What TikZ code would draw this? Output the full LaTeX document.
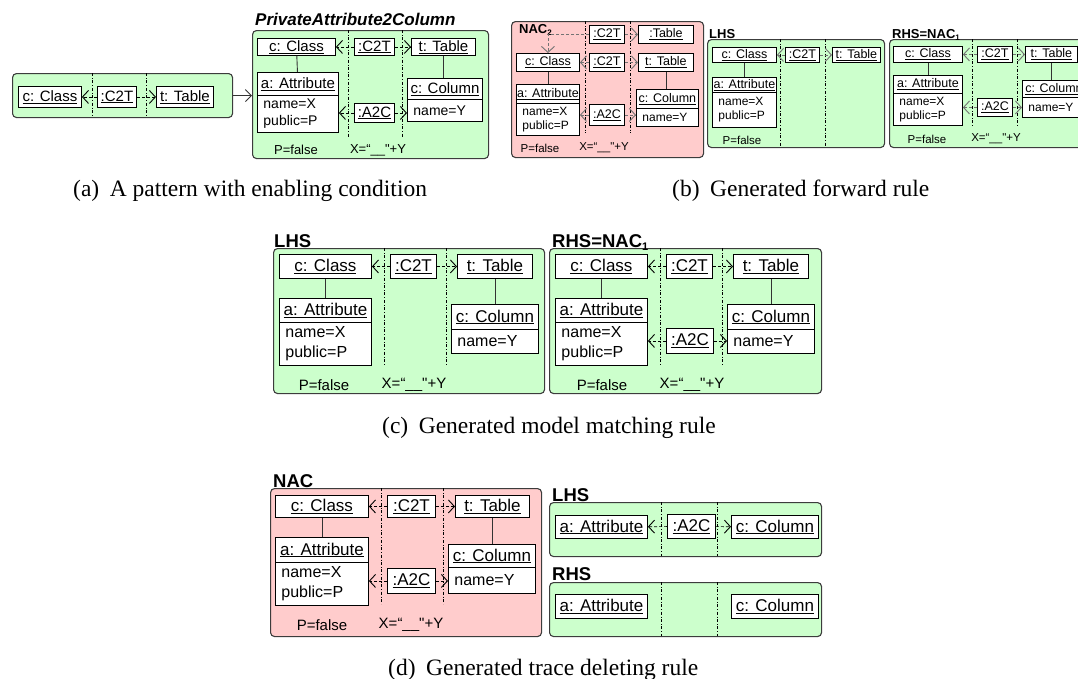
\documentclass[tikz,border=0pt]{standalone}
\usepackage{fontspec}
\setmainfont{Liberation Serif}
\newfontfamily\diag{Liberation Sans}
\usetikzlibrary{arrows.meta}

\definecolor{rulegreen}{HTML}{CCFFCC}
\definecolor{nacred}{HTML}{FFCCCC}
\definecolor{rim}{HTML}{3C3C3C}

\tikzset{
  obj/.style={draw=black, fill=white, line width=0.9pt, inner sep=0pt, anchor=north west},
  attrs/.style={obj, align=left, inner xsep=6pt},
  rulebox/.style={draw=rim, fill=rulegreen, line width=1.1pt, rounded corners=4pt, inner sep=0pt, anchor=north west},
  nacbox/.style={rulebox, fill=nacred},
  lane/.style={dash dot, line width=0.6pt},
  link/.style={dash pattern=on 3pt off 2pt, line width=0.7pt, -{Straight Barb[length=6pt,width=13pt,line width=0.9pt,sharp]}},
  linkg/.style={link, black!55},
  assoc/.style={line width=0.9pt, draw=black!80},
  lbl/.style={font=\diag\bfseries\fontsize{18.5}{20}\selectfont, inner sep=0pt, anchor=base west},
  lblb/.style={lbl, font=\diag\bfseries\fontsize{13}{15}\selectfont},
  foot/.style={inner sep=0pt},
  caption/.style={font=\fontsize{23.5}{26}\selectfont, inner sep=0pt, anchor=base west},
  sa/.style={font=\diag\fontsize{15}{18}\selectfont},
  sab/.style={font=\diag\fontsize{14}{17}\selectfont},
  sb/.style={font=\diag\fontsize{12.5}{15}\selectfont},
  sbb/.style={font=\diag\fontsize{12}{14}\selectfont},
  sc/.style={font=\diag\fontsize{17}{20}\selectfont},
  scb/.style={font=\diag\fontsize{16}{20}\selectfont},
  fta/.style={foot, font=\diag\fontsize{13}{15}\selectfont},
  ftb/.style={foot, font=\diag\fontsize{11.5}{13}\selectfont},
  ftc/.style={foot, font=\diag\fontsize{15}{17}\selectfont},
}

\begin{document}
\begin{tikzpicture}[x=1pt, y=-1pt]
\useasboundingbox (0,0) rectangle (1078,678);
\clip (0,0) rectangle (1078,678);

% (a) pattern, left part
\begin{scope}[shift={(12,73)}, every node/.style={sa}]
	\node[rulebox, minimum width=220, minimum height=44] (ra) at (0,0) {};
	\draw[lane] (80,0) -- (80,44);
	\draw[lane] (134,0) -- (134,44);
	\node[obj, minimum width=63, minimum height=21] (clsa) at (6,13) {\underline{c: Class}};
	\node[obj, minimum width=39, minimum height=21] (c2ta) at (85,13) {\underline{:C2T}};
	\node[obj, minimum width=57, minimum height=21] (tbla) at (144,13) {\underline{t: Table}};
	\draw[link] (c2ta) -- (clsa);
	\draw[link] (c2ta) -- (tbla);
\end{scope}

% (a) pattern, PrivateAttribute2Column
\begin{scope}[shift={(252,30)}, every node/.style={sa}]
	\node[rulebox, minimum width=236, minimum height=128] (rb) at (0,0) {};
	\node[lbl, font=\diag\bfseries\itshape\fontsize{17}{20}\selectfont] (rbt) at (3,-5) {PrivateAttribute2Column};
	\draw[lane] (96,0) -- (96,108);
	\draw[lane] (150,0) -- (150,108);
	\node[obj, minimum width=78, minimum height=17] (clsp) at (5,8) {\underline{c: Class}};
	\node[obj, minimum width=40, minimum height=17] (c2tp) at (102,8) {\underline{:C2T}};
	\node[obj, minimum width=64, minimum height=17] (tblp) at (159,8) {\underline{t: Table}};
	\node[obj, minimum width=81, minimum height=23] (atp) at (5,42) {\underline{a: Attribute}};
	\node[attrs, sab, text width=69pt, minimum height=37] (atpb) at (5,65) {name=X\\public=P};
	\node[obj, minimum width=75, minimum height=21] (colp) at (155,48) {\underline{c: Column}};
	\node[attrs, sab, text width=63pt, minimum height=22] (colpb) at (155,69) {name=Y};
	\node[obj, minimum width=40, minimum height=19] (a2cp) at (102,73) {\underline{:A2C}};
	\draw[assoc] (clsp) -- (atp);
	\draw[assoc] (tblp.south) -- (tblp.south |- colp.north);
	\draw[link] (c2tp) -- (clsp);
	\draw[link] (c2tp) -- (tblp);
	\draw[link] (a2cp.west) -- (a2cp.west -| atpb.east);
	\draw[link] (a2cp.east) -- (a2cp.east -| colpb.west);
	\node[fta] (pfp) at (44,120) {P=false};
	\node[fta] (xyp) at (126,120) {X=“\_\_"+Y};
\end{scope}
\draw[assoc, -{Straight Barb[length=6pt,width=12pt]}] (ra.east) -- (ra.east -| rb.west);

% (b) NAC_2
\begin{scope}[shift={(511,21)}, every node/.style={sb}]
	\node[nacbox, minimum width=192, minimum height=136] (nacb) at (0,0) {};
	\draw[lane] (74,0) -- (74,112);
	\draw[lane] (119,0) -- (119,112);
	\node[lblb] (nacbt) at (8,12) {NAC\raisebox{-2.5pt}{\fontsize{8}{8}\selectfont 2}};
	\node[obj, minimum width=35, minimum height=18] (c2tx) at (78,4) {\underline{:C2T}};
	\node[obj, minimum width=55, minimum height=18] (tabx) at (127,4) {\underline{:Table}};
	\node[obj, minimum width=63, minimum height=18] (clsb) at (5,32) {\underline{c: Class}};
	\node[obj, minimum width=35, minimum height=18] (c2tb) at (78,32) {\underline{:C2T}};
	\node[obj, minimum width=55, minimum height=18] (tblb) at (127,32) {\underline{t: Table}};
	\node[obj, minimum width=63, minimum height=19] (atb) at (5,63) {\underline{a: Attribute}};
	\node[attrs, sbb, text width=51pt, minimum height=32] (atbb) at (5,82) {name=X\\public=P};
	\node[obj, minimum width=62, minimum height=19] (colb) at (125,68) {\underline{c: Column}};
	\node[attrs, sbb, text width=50pt, minimum height=18] (colbb) at (125,87) {name=Y};
	\node[obj, minimum width=35, minimum height=21] (a2cb) at (78,83) {\underline{:A2C}};
	\draw[assoc] (clsb) -- (atb);
	\draw[assoc] (tblb.south) -- (tblb.south |- colb.north);
	\draw[linkg] (c2tx.west) -| (clsb.north);
	\draw[linkg] (c2tx) -- (tabx);
	\draw[linkg] (c2tb) -- (clsb);
	\draw[linkg] (c2tb) -- (tblb);
	\draw[linkg] (a2cb.west) -- (a2cb.west -| atbb.east);
	\draw[linkg] (a2cb.east) -- (a2cb.east -| colbb.west);
	\node[ftb] (pfb) at (29,127) {P=false};
	\node[ftb] (xyb) at (93,127) {X=“\_\_"+Y};
\end{scope}

% (b) LHS
\begin{scope}[shift={(707,39)}, every node/.style={sb}]
	\node[rulebox, minimum width=177, minimum height=108] (lhsb) at (0,0) {};
	\node[lblb] (lhsbt) at (2,-1) {LHS};
	\draw[lane] (73,0) -- (73,108);
	\draw[lane] (118,0) -- (118,108);
	\node[obj, minimum width=64, minimum height=15] (clsl) at (5,8) {\underline{c: Class}};
	\node[obj, minimum width=34, minimum height=15] (c2tl) at (78,8) {\underline{:C2T}};
	\node[obj, minimum width=48, minimum height=15] (tbll) at (125,8) {\underline{t: Table}};
	\node[obj, minimum width=64, minimum height=15] (atl) at (5,38) {\underline{a: Attribute}};
	\node[attrs, sbb, text width=52pt, minimum height=35] (atlb) at (5,53) {name=X\\public=P};
	\draw[assoc] (clsl) -- (atl);
	\draw[linkg] (c2tl) -- (clsl);
	\draw[linkg] (c2tl) -- (tbll);
	\node[ftb] (pfl) at (35,101) {P=false};
\end{scope}

% (b) RHS=NAC_1
\begin{scope}[shift={(889,39)}, every node/.style={sb}]
	\node[rulebox, minimum width=197, minimum height=108] (rhsb) at (0,0) {};
	\node[lblb] (rhsbt) at (3,-1) {RHS=NAC\raisebox{-2.5pt}{\fontsize{8}{8}\selectfont 1}};
	\draw[lane] (83,0) -- (83,88);
	\draw[lane] (128,0) -- (128,88);
	\node[obj, minimum width=69, minimum height=16] (clsr) at (4,7) {\underline{c: Class}};
	\node[obj, minimum width=35, minimum height=16] (c2tr) at (88,7) {\underline{:C2T}};
	\node[obj, minimum width=52, minimum height=16] (tblr) at (136,7) {\underline{t: Table}};
	\node[obj, minimum width=69, minimum height=18] (atr) at (4,36) {\underline{a: Attribute}};
	\node[attrs, sbb, text width=57pt, minimum height=32] (atrb) at (4,54) {name=X\\public=P};
	\node[obj, minimum width=63, minimum height=17] (colr) at (133,41) {\underline{c: Column}};
	\node[attrs, sbb, text width=51pt, minimum height=20] (colrb) at (133,58) {name=Y};
	\node[obj, minimum width=35, minimum height=18] (a2cr) at (88,59) {\underline{:A2C}};
	\draw[assoc] (clsr) -- (atr);
	\draw[assoc] (tblr.south) -- (tblr.south |- colr.north);
	\draw[linkg] (c2tr) -- (clsr);
	\draw[linkg] (c2tr) -- (tblr);
	\draw[linkg] (a2cr.west) -- (a2cr.west -| atrb.east);
	\draw[linkg] (a2cr.east) -- (a2cr.east -| colrb.west);
	\node[ftb] (pfr) at (38,100) {P=false};
	\node[ftb] (xyr) at (107,100) {X=“\_\_"+Y};
\end{scope}

% (c) LHS
\begin{scope}[shift={(273,248)}, every node/.style={sc}]
	\node[rulebox, minimum width=271, minimum height=145] (lhsc) at (0,0) {};
	\node[lbl] (lhsct) at (1,-1) {LHS};
	\draw[lane] (111,0) -- (111,117);
	\draw[lane] (173,0) -- (173,117);
	\node[obj, minimum width=92, minimum height=24] (clsc) at (6,6) {\underline{c: Class}};
	\node[obj, minimum width=46, minimum height=24] (c2tc) at (117,6) {\underline{:C2T}};
	\node[obj, minimum width=75, minimum height=24] (tblc) at (184,6) {\underline{t: Table}};
	\node[obj, minimum width=92, minimum height=24] (atc) at (6,50) {\underline{a: Attribute}};
	\node[attrs, scb, text width=80pt, minimum height=43] (atcb) at (6,74) {name=X\\public=P};
	\node[obj, minimum width=87, minimum height=25] (colc) at (178,56) {\underline{c: Column}};
	\node[attrs, scb, text width=75pt, minimum height=24] (colcb) at (178,81) {name=Y};
	\draw[assoc] (clsc) -- (atc);
	\draw[assoc] (tblc.south) -- (tblc.south |- colc.north);
	\draw[link] (c2tc) -- (clsc);
	\draw[link] (c2tc) -- (tblc);
	\node[ftc] (pfc) at (51,137) {P=false};
	\node[ftc] (xyc) at (141,137) {X=“\_\_"+Y};
\end{scope}

% (c) RHS=NAC_1
\begin{scope}[shift={(549,248)}, every node/.style={sc}]
	\node[rulebox, minimum width=272, minimum height=145] (rhsc) at (0,0) {};
	\node[lbl] (rhsct) at (3,-1) {RHS=NAC\raisebox{-3.5pt}{\fontsize{11}{11}\selectfont 1}};
	\draw[lane] (111,0) -- (111,117);
	\draw[lane] (173,0) -- (173,117);
	\node[obj, minimum width=92, minimum height=24] (clsd) at (6,6) {\underline{c: Class}};
	\node[obj, minimum width=46, minimum height=24] (c2td) at (117,6) {\underline{:C2T}};
	\node[obj, minimum width=75, minimum height=24] (tbld) at (184,6) {\underline{t: Table}};
	\node[obj, minimum width=92, minimum height=24] (atd) at (6,50) {\underline{a: Attribute}};
	\node[attrs, scb, text width=80pt, minimum height=43] (atdb) at (6,74) {name=X\\public=P};
	\node[obj, minimum width=87, minimum height=25] (cold) at (178,56) {\underline{c: Column}};
	\node[attrs, scb, text width=75pt, minimum height=24] (coldb) at (178,81) {name=Y};
	\node[obj, minimum width=47, minimum height=25] (a2cd) at (117,80) {\underline{:A2C}};
	\draw[assoc] (clsd) -- (atd);
	\draw[assoc] (tbld.south) -- (tbld.south |- cold.north);
	\draw[link] (c2td) -- (clsd);
	\draw[link] (c2td) -- (tbld);
	\draw[link] (a2cd.west) -- (a2cd.west -| atdb.east);
	\draw[link] (a2cd.east) -- (a2cd.east -| coldb.west);
	\node[ftc] (pfd) at (53,137) {P=false};
	\node[ftc] (xyd) at (143,137) {X=“\_\_"+Y};
\end{scope}

% (d) NAC
\begin{scope}[shift={(270,488)}, every node/.style={sc}]
	\node[nacbox, minimum width=271, minimum height=148] (nacd) at (0,0) {};
	\node[lbl] (nacdt) at (3,-1) {NAC};
	\draw[lane] (111,0) -- (111,116);
	\draw[lane] (173,0) -- (173,116);
	\node[obj, minimum width=93, minimum height=22] (clse) at (5,7) {\underline{c: Class}};
	\node[obj, minimum width=48, minimum height=22] (c2te) at (117,7) {\underline{:C2T}};
	\node[obj, minimum width=74, minimum height=22] (tble) at (185,7) {\underline{t: Table}};
	\node[obj, minimum width=93, minimum height=25] (ate) at (5,49) {\underline{a: Attribute}};
	\node[attrs, scb, text width=81pt, minimum height=43] (ateb) at (5,74) {name=X\\public=P};
	\node[obj, minimum width=87, minimum height=23] (cole) at (178,56) {\underline{c: Column}};
	\node[attrs, scb, text width=75pt, minimum height=26] (coleb) at (178,79) {name=Y};
	\node[obj, minimum width=48, minimum height=25] (a2ce) at (117,80) {\underline{:A2C}};
	\draw[assoc] (clse) -- (ate);
	\draw[assoc] (tble.south) -- (tble.south |- cole.north);
	\draw[link] (c2te) -- (clse);
	\draw[link] (c2te) -- (tble);
	\draw[link] (a2ce.west) -- (a2ce.west -| ateb.east);
	\draw[link] (a2ce.east) -- (a2ce.east -| coleb.west);
	\node[ftc] (pfe) at (52,137) {P=false};
	\node[ftc] (xye) at (141,137) {X=“\_\_"+Y};
\end{scope}

% (d) LHS
\begin{scope}[shift={(549,502)}, every node/.style={sc}]
	\node[rulebox, minimum width=272, minimum height=54] (lhsd) at (0,0) {};
	\node[lbl] (lhsdt) at (3,-1) {LHS};
	\draw[lane] (112,0) -- (112,54);
	\draw[lane] (168,0) -- (168,54);
	\node[obj, minimum width=92, minimum height=23] (atf) at (6,13) {\underline{a: Attribute}};
	\node[obj, minimum width=48, minimum height=24] (a2cf) at (118,12) {\underline{:A2C}};
	\node[obj, minimum width=87, minimum height=23] (colf) at (182,13) {\underline{c: Column}};
	\draw[link] (a2cf) -- (atf);
	\draw[link] (a2cf) -- (colf);
\end{scope}

% (d) RHS
\begin{scope}[shift={(549,582)}, every node/.style={sc}]
	\node[rulebox, minimum width=272, minimum height=54] (rhsd) at (0,0) {};
	\node[lbl] (rhsdt) at (3,-2) {RHS};
	\draw[lane] (112,0) -- (112,54);
	\draw[lane] (168,0) -- (168,54);
	\node[obj, minimum width=92, minimum height=24] (atg) at (6,12) {\underline{a: Attribute}};
	\node[obj, minimum width=87, minimum height=24] (colg) at (182,12) {\underline{c: Column}};
\end{scope}

% captions
\node[caption] (capa) at (73,196) {(a)\hspace{0.45em}A pattern with enabling condition};
\node[caption] (capb) at (672,196) {(b)\hspace{0.45em}Generated forward rule};
\node[caption] (capc) at (382,433) {(c)\hspace{0.45em}Generated model matching rule};
\node[caption] (capd) at (388,675) {(d)\hspace{0.45em}Generated trace deleting rule};
\end{tikzpicture}
\end{document}
